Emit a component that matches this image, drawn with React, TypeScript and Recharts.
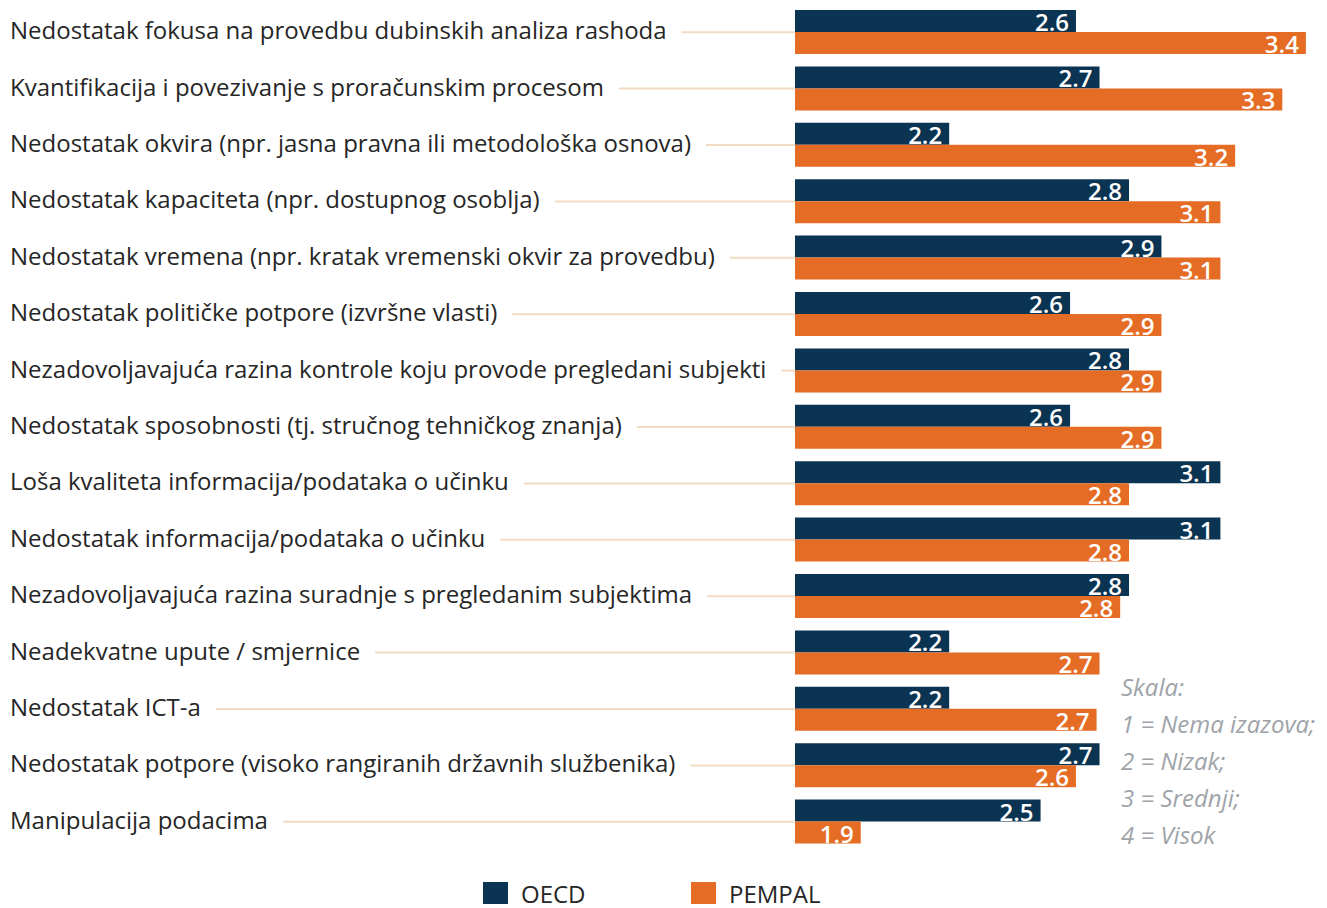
import React from "react";
import { BarChart, Bar, XAxis, YAxis, LabelList } from "recharts";

const categories = [
  "Nedostatak fokusa na provedbu dubinskih analiza rashoda",
  "Kvantifikacija i povezivanje s proračunskim procesom",
  "Nedostatak okvira (npr. jasna pravna ili metodološka osnova)",
  "Nedostatak kapaciteta (npr. dostupnog osoblja)",
  "Nedostatak vremena (npr. kratak vremenski okvir za provedbu)",
  "Nedostatak političke potpore (izvršne vlasti)",
  "Nezadovoljavajuća razina kontrole koju provode pregledani subjekti",
  "Nedostatak sposobnosti (tj. stručnog tehničkog znanja)",
  "Loša kvaliteta informacija/podataka o učinku",
  "Nedostatak informacija/podataka o učinku",
  "Nezadovoljavajuća razina suradnje s pregledanim subjektima",
  "Neadekvatne upute / smjernice",
  "Nedostatak ICT-a",
  "Nedostatak potpore (visoko rangiranih državnih službenika)",
  "Manipulacija podacima",
];

// labels show them rounded to one decimal
const oecd = [2.62, 2.7, 2.19, 2.8, 2.91, 2.6, 2.8, 2.6, 3.11, 3.11, 2.8, 2.19, 2.19, 2.7, 2.5];
const pempal = [3.4, 3.32, 3.16, 3.11, 3.11, 2.91, 2.91, 2.91, 2.8, 2.8, 2.77, 2.7, 2.69, 2.62, 1.89];

const scaleNotes = ["Skala:", "1 = Nema izazova;", "2 = Nizak;", "3 = Srednji;", "4 = Visok"];

const data = categories.map((name, i) => ({ name, oecd: oecd[i], pempal: pempal[i] }));

const FONT = "'Open Sans', sans-serif";
const NAVY = "#0b3352";
const ORANGE = "#e56c24";

let ctx: CanvasRenderingContext2D | null = null;
const textWidth = (t: string) => {
  if (!ctx) ctx = document.createElement("canvas").getContext("2d");
  if (!ctx) return t.length * 12.5;
  ctx.font = "24px 'Open Sans'";
  return ctx.measureText(t).width;
};

const CategoryTick = (props: any) => {
  const { y, payload } = props;
  const w = textWidth(payload.value);
  return (
    <g>
      <text x={10} y={y + 7} fontSize={24} fontFamily={FONT} fill="#262626">
        {payload.value}
      </text>
      <line x1={10 + w + 15} x2={795} y1={y} y2={y} stroke="#f3dcc4" strokeWidth={2} />
    </g>
  );
};

const ValueLabel = (props: any) => {
  const { x, y, width, height, value } = props;
  return (
    <text
      x={x + width - 7}
      y={y + height - 1}
      textAnchor="end"
      fontSize={24}
      fontWeight={600}
      fontFamily={FONT}
      fill="#ffffff"
    >
      {Number(value).toFixed(1)}
    </text>
  );
};

export default function App() {
  return (
    <div style={{ position: "absolute", left: 0, top: 0, width: 1327, height: 908, background: "#fff" }}>
      <BarChart
        width={1327}
        height={854}
        data={data}
        layout="vertical"
        margin={{ top: 4, right: 4, bottom: 4, left: 0 }}
        barGap={0}
        barSize={22}
      >
        <XAxis type="number" domain={[1.667, 3.458]} hide />
        <YAxis
          type="category"
          dataKey="name"
          width={795}
          axisLine={false}
          tickLine={false}
          interval={0}
          tick={<CategoryTick />}
        />
        <Bar dataKey="oecd" fill={NAVY} isAnimationActive={false}>
          <LabelList dataKey="oecd" content={<ValueLabel />} />
        </Bar>
        <Bar dataKey="pempal" fill={ORANGE} isAnimationActive={false}>
          <LabelList dataKey="pempal" content={<ValueLabel />} />
        </Bar>
      </BarChart>

      {scaleNotes.map((t, i) => (
        <div
          key={t}
          style={{
            position: "absolute",
            left: 1121,
            top: 674 + i * 37,
            fontFamily: FONT,
            fontStyle: "italic",
            fontSize: 24,
            lineHeight: "26px",
            color: "#9ea3a8",
            whiteSpace: "nowrap",
          }}
        >
          {t}
        </div>
      ))}

      <div style={{ position: "absolute", left: 483, top: 882, width: 25, height: 22, background: NAVY }} />
      <div
        style={{ position: "absolute", left: 521, top: 880, fontFamily: FONT, fontSize: 24, lineHeight: "28px", color: "#262626" }}
      >
        OECD
      </div>
      <div style={{ position: "absolute", left: 691, top: 882, width: 25, height: 22, background: ORANGE }} />
      <div
        style={{ position: "absolute", left: 729, top: 880, fontFamily: FONT, fontSize: 24, lineHeight: "28px", color: "#262626" }}
      >
        PEMPAL
      </div>
    </div>
  );
}
